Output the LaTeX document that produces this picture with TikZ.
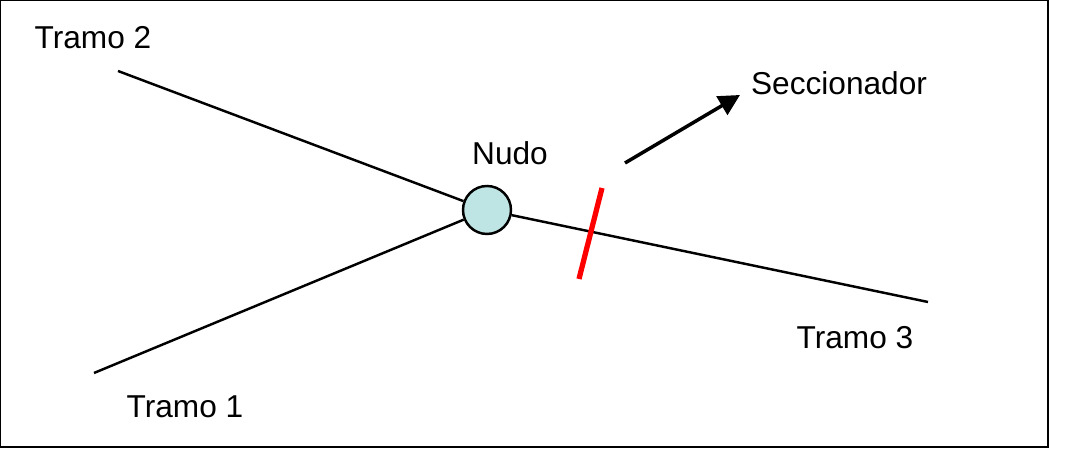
\documentclass[tikz,border=0pt]{standalone}
\usepackage{fontspec}
\setmainfont{Liberation Sans}
\usetikzlibrary{arrows.meta}
\definecolor{nudofill}{RGB}{190,228,228}
\begin{document}
\begin{tikzpicture}
		[tramo/.style={line width=1.4pt},
		etiqueta/.style={font=\fontsize{18}{20}\selectfont},
		]
		\useasboundingbox (0,0) rectangle (21.32,9.28);
		\draw[line width=0.8pt] (0.01,0.34) rectangle (20.96,9.27);
		% nudo y tramos
		\node[circle,draw,line width=1.4pt,fill=nudofill,minimum size=0.96cm,inner sep=0pt] (nudo) at (9.74,5.08) {};
		\coordinate (t2) at (2.36,7.86);
		\coordinate (t1) at (1.88,1.82);
		\coordinate (t3) at (18.56,3.24);
		\draw[tramo] (t2) -- (nudo);
		\draw[tramo] (t1) -- (nudo);
		\draw[tramo] (nudo) -- (t3);
		% seccionador
		\coordinate (s1) at (12.04,5.52);
		\coordinate (s2) at (11.58,3.70);
		\draw[red,line width=3pt] (s1) -- (s2);
		\coordinate (a1) at (12.5,6.02);
		\coordinate (a2) at (14.8,7.38);
		\draw[line width=2pt,-{Triangle[length=12pt,width=12pt]}] (a1) -- (a2);
		% etiquetas
		\node[etiqueta] (lt2) at (1.86,8.52) {Tramo 2};
		\node[etiqueta] (lt1) at (3.70,1.14) {Tramo 1};
		\node[etiqueta] (lt3) at (17.10,2.52) {Tramo 3};
		\node[etiqueta] (ln) at (10.20,6.22) {Nudo};
		\node[etiqueta] (ls) at (16.78,7.62) {Seccionador};
	\end{tikzpicture}
\end{document}
